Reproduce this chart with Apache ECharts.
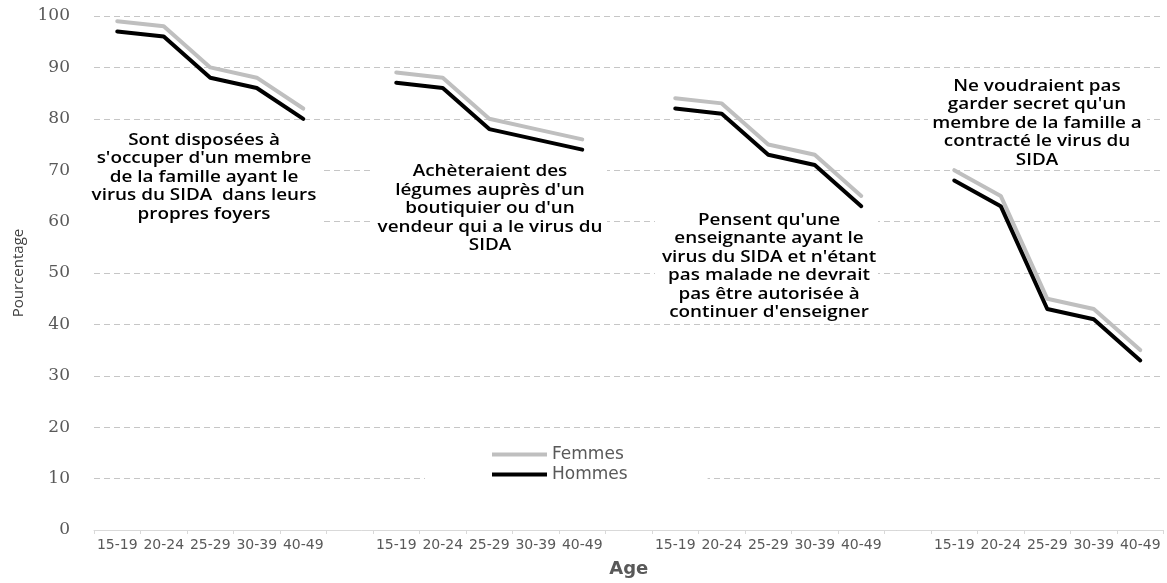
<!DOCTYPE html>
<html>
<head>
<meta charset="utf-8">
<title>Attitudes envers les personnes vivant avec le VIH, par âge</title>
<script src="https://cdn.jsdelivr.net/npm/echarts@6/dist/echarts.min.js"></script>
<style>
  html, body { margin: 0; padding: 0; background: #ffffff; }
  #chart { width: 1167px; height: 583px; }
</style>
</head>
<body>
<div id="chart"></div>
<script>
// Age groups repeated for each of the four attitude indicators
const ageGroups = ['15-19', '20-24', '25-29', '30-39', '40-49'];

// Percentages by indicator, women
const femmesSoins = [99, 98, 90, 88, 82];
const femmesLegumes = [89, 88, 80, 78, 76];
const femmesEnseignante = [84, 83, 75, 73, 65];
const femmesSecret = [70, 65, 45, 43, 35];

// Percentages by indicator, men
const hommesSoins = [97, 96, 88, 86, 80];
const hommesLegumes = [87, 86, 78, 76, 74];
const hommesEnseignante = [82, 81, 73, 71, 63];
const hommesSecret = [68, 63, 43, 41, 33];

// Y axis ticks
const yTicks = [0, 10, 20, 30, 40, 50, 60, 70, 80, 90, 100];

// Indicator descriptions written over each block
const noteSoins = ['Sont disposées à', "s'occuper d'un membre", 'de la famille ayant le', 'virus du SIDA  dans leurs', 'propres foyers'];
const noteLegumes = ['Achèteraient des', "légumes auprès d'un", "boutiquier ou d'un", 'vendeur qui a le virus du', 'SIDA'];
const noteEnseignante = ["Pensent qu'une", 'enseignante ayant le', "virus du SIDA et n'étant", 'pas malade ne devrait', 'pas être autorisée à', "continuer d'enseigner"];
const noteSecret = ['Ne voudraient pas', "garder secret qu'un", 'membre de la famille a', 'contracté le virus du', 'SIDA'];

// Join the four blocks with an empty slot between them
function joinBlocks(blocks, filler) {
  const out = [];
  blocks.forEach(function (b, i) {
    if (i > 0) out.push(filler);
    b.forEach(function (v) { out.push(v); });
  });
  return out;
}

const categories = joinBlocks([ageGroups, ageGroups, ageGroups, ageGroups], '');
const femmes = joinBlocks([femmesSoins, femmesLegumes, femmesEnseignante, femmesSecret], null);
const hommes = joinBlocks([hommesSoins, hommesLegumes, hommesEnseignante, hommesSecret], null);

// Text boxes: white panel plus centred, slightly widened text
function noteBox(lines, box, cx, top) {
  return [
    {
      type: 'rect', z: 1, silent: true,
      shape: { x: box[0], y: box[1], width: box[2], height: box[3] },
      style: { fill: '#ffffff' }
    },
    {
      type: 'text', z: 1, silent: true,
      x: cx, y: top, scaleX: 1.18,
      style: {
        text: lines.join('\n'),
        x: 0, y: 0,
        font: '600 16px "Open Sans"',
        fill: '#000000',
        align: 'center', textAlign: 'center',
        verticalAlign: 'top', textVerticalAlign: 'top',
        lineHeight: 18.5
      }
    }
  ];
}

const graphics = [].concat(
  noteBox(noteSoins, [88, 126, 234, 100], 204, 130.8),
  noteBox(noteLegumes, [372, 160, 235, 96], 490, 162.4),
  noteBox(noteEnseignante, [655, 208, 223, 114], 769, 210.8),
  noteBox(noteSecret, [928, 74, 219, 94], 1037, 76.8)
);

const chart = echarts.init(document.getElementById('chart'), null, { renderer: 'canvas' });

chart.setOption({
  animation: false,
  backgroundColor: '#ffffff',
  grid: { left: 94, right: 3.5, top: 16, bottom: 50, containLabel: false },
  legend: {
    orient: 'vertical',
    left: 425, top: 440,
    padding: [6, 80, 12, 67],
    backgroundColor: '#ffffff',
    icon: 'rect',
    itemWidth: 55, itemHeight: 4,
    itemGap: 3, itemTextGap: 6,
    textStyle: { fontFamily: 'DejaVu Sans', fontSize: 17, color: '#595959', lineHeight: 16 },
    data: ['Femmes', 'Hommes']
  },
  xAxis: {
    type: 'category',
    data: categories,
    boundaryGap: true,
    name: 'Age',
    nameLocation: 'middle',
    nameGap: 30,
    nameTextStyle: { fontFamily: 'DejaVu Sans', fontWeight: 'bold', fontSize: 18, color: '#595959' },
    axisLine: { show: true, lineStyle: { color: '#D9D9D9', width: 1 } },
    axisTick: { show: true, interval: 0, length: 4, lineStyle: { color: '#D9D9D9' } },
    axisLabel: { interval: 0, margin: 8, fontFamily: 'DejaVu Sans', fontSize: 14, color: '#595959' },
    splitLine: { show: false }
  },
  yAxis: {
    type: 'value',
    min: yTicks[0], max: yTicks[yTicks.length - 1], interval: yTicks[1] - yTicks[0],
    name: 'Pourcentage',
    nameLocation: 'middle',
    nameGap: 68,
    nameRotate: 90,
    nameTextStyle: { fontFamily: 'Open Sans', fontSize: 15, color: '#404040' },
    axisLine: { show: false },
    axisTick: { show: false },
    axisLabel: { margin: 24, fontFamily: 'DejaVu Serif', fontSize: 17, color: '#595959' },
    splitLine: { show: true, lineStyle: { color: '#C6C6C6', type: [6, 4], width: 1 } }
  },
  series: [
    {
      name: 'Femmes', type: 'line', data: femmes,
      symbol: 'none', showSymbol: false, connectNulls: false, z: 2,
      itemStyle: { color: '#BFBFBF' },
      lineStyle: { color: '#BFBFBF', width: 4, cap: 'round', join: 'round' }
    },
    {
      name: 'Hommes', type: 'line', data: hommes,
      symbol: 'none', showSymbol: false, connectNulls: false, z: 3,
      itemStyle: { color: '#000000' },
      lineStyle: { color: '#000000', width: 4, cap: 'round', join: 'round' }
    }
  ],
  graphic: { elements: graphics }
});
</script>
</body>
</html>
